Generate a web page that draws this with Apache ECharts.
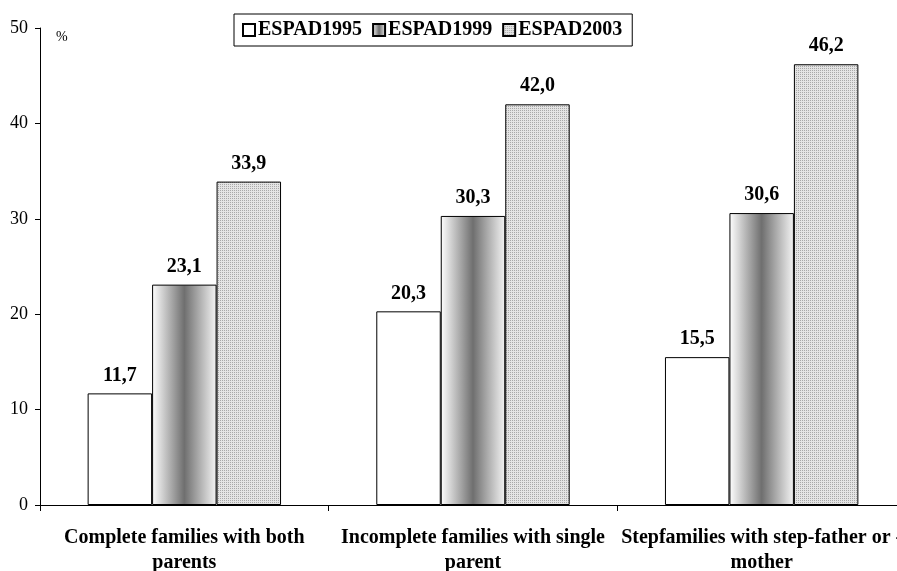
<!DOCTYPE html>
<html><head><meta charset="utf-8">
<script src="https://cdn.jsdelivr.net/npm/echarts@6/dist/echarts.min.js"></script>
<style>html,body{margin:0;padding:0;background:#fff;overflow:hidden}#c{width:906px;height:571px}</style>
</head><body><div id="c"></div>
<script>
const categories = ["Complete families with both\nparents", "Incomplete families with single\nparent", "Stepfamilies with step-father or -\nmother"];
const seriesNames = ["ESPAD1995", "ESPAD1999", "ESPAD2003"];
const espad1995 = [11.7, 20.3, 15.5];
const espad1999 = [23.1, 30.3, 30.6];
const espad2003 = [33.9, 42.0, 46.2];
const yTicks = [0, 10, 20, 30, 40, 50];

const serif = '"Liberation Serif", "Times New Roman", serif';

// dotted pattern
const pc = document.createElement('canvas');
pc.width = 2; pc.height = 2;
const pctx = pc.getContext('2d');
pctx.fillStyle = '#e4e4e4'; pctx.fillRect(0,0,2,2);
pctx.fillStyle = '#a8a8a8'; pctx.fillRect(0,0,1,1);

const fills = [
  '#ffffff',
  {type:'linear', x:0, y:0, x2:1, y2:0, colorStops:[
    {offset:0, color:'#ffffff'}, {offset:0.5, color:'#6f6f6f'}, {offset:1, color:'#f4f4f4'}]},
  {image: pc, repeat: 'repeat'}
];
const datasets = [espad1995, espad1999, espad2003];

const chart = echarts.init(document.getElementById('c'), null, {renderer:'canvas'});
chart.setOption({
  animation: false,
  backgroundColor: '#fff',
  grid: {left: 40, right: 0, top: 28, bottom: 66, containLabel: false, outerBoundsMode: 'none'},
  legend: {
    left: 234, top: 14,
    padding: [6, 10, 6, 8],
    borderColor: '#000', borderWidth: 1,
    itemWidth: 12, itemHeight: 12, itemGap: 10,
    icon: 'rect',
    textStyle: {fontFamily: serif, fontWeight: 'bold', fontSize: 20, color: '#000', padding: [0,0,0,-2]},
    data: seriesNames
  },
  xAxis: {
    type: 'category', data: categories,
    axisLine: {lineStyle: {color: '#000', width: 1}},
    axisTick: {show: true, inside: false, length: 6, lineStyle: {color: '#000'}},
    axisLabel: {interval: 0, color: '#000', fontFamily: serif, fontWeight: 'bold', fontSize: 20, lineHeight: 25, margin: 20},
    splitLine: {show: false}
  },
  yAxis: {
    type: 'value', min: yTicks[0], max: yTicks[yTicks.length-1], interval: 10,
    axisLine: {show: true, lineStyle: {color: '#000', width: 1}},
    axisTick: {show: true, length: 5, lineStyle: {color: '#000'}},
    axisLabel: {color: '#000', fontFamily: serif, fontSize: 18, margin: 12},
    splitLine: {show: false}
  },
  graphic: [{type: 'text', left: 56, top: 30, style: {text: '%', font: '14px ' + serif, fill: '#000'}}],
  series: seriesNames.map((n, i) => ({
    name: n, type: 'bar', data: datasets[i],
    barGap: '0%', barCategoryGap: '33%',
    itemStyle: {color: fills[i], borderColor: '#000', borderWidth: 1},
    label: {show: true, position: 'top', distance: 8, color: '#000', fontFamily: serif, fontWeight: 'bold', fontSize: 20,
      formatter: p => p.value.toFixed(1).replace('.', ',')}
  }))
});
</script></body></html>
